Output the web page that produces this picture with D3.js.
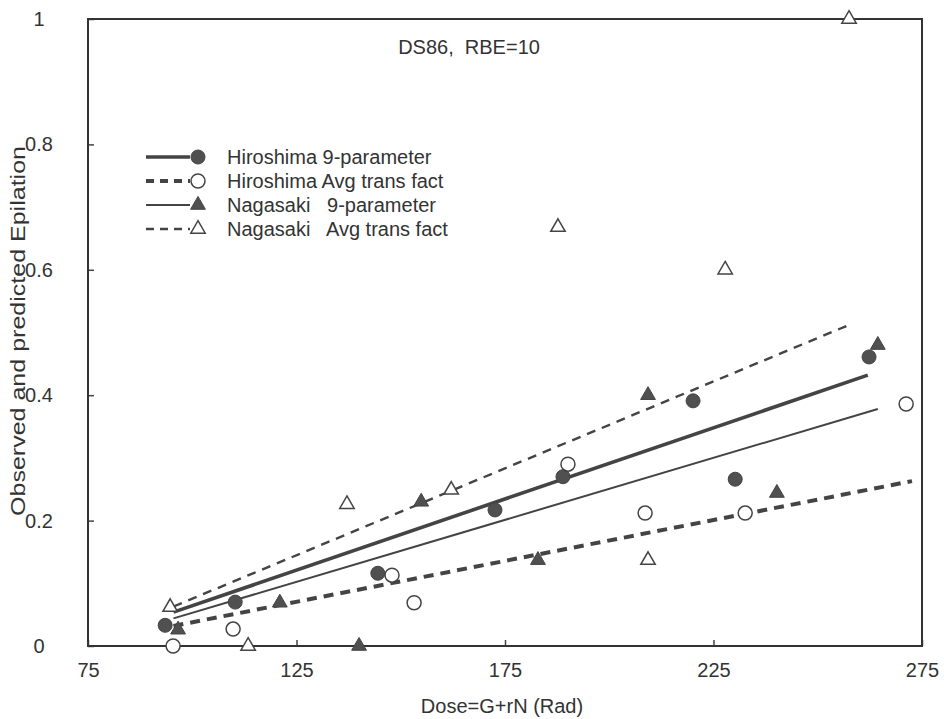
<!DOCTYPE html>
<html>
<head>
<meta charset="utf-8">
<script src="https://cdn.jsdelivr.net/npm/d3@7"></script>
<style>
  body { margin: 0; background: #fff; }
  text { font-family: "Liberation Sans", Arial, sans-serif; fill: #333; }
</style>
</head>
<body>
<svg id="chart" width="944" height="719"></svg>
<script>
// Observed points
var hiro9X = [93.5, 110.3, 144.5, 172.6, 188.9, 220.1, 230.2, 262.3];
var hiro9Y = [0.033, 0.070, 0.116, 0.217, 0.270, 0.391, 0.266, 0.461];
var hiroAvgX = [95.4, 109.8, 147.9, 153.2, 190.1, 208.6, 232.6, 271.2];
var hiroAvgY = [0.000, 0.027, 0.113, 0.069, 0.290, 0.212, 0.212, 0.386];
var naga9X = [96.6, 121.0, 140.0, 154.9, 182.9, 209.3, 240.2, 264.4];
var naga9Y = [0.026, 0.069, 0.000, 0.230, 0.137, 0.400, 0.244, 0.480];
var nagaAvgX = [94.7, 113.4, 137.1, 162.1, 187.7, 209.3, 227.8, 257.5];
var nagaAvgY = [0.062, 0.000, 0.226, 0.249, 0.668, 0.137, 0.600, 1.000];

// Fitted lines (start / end)
var hiro9FitX = [95.5, 262.0];
var hiro9FitY = [0.054, 0.432];
var hiroAvgFitX = [95.5, 272.6];
var hiroAvgFitY = [0.032, 0.263];
var naga9FitX = [95.5, 264.4];
var naga9FitY = [0.044, 0.378];
var nagaAvgFitX = [95.5, 258.2];
var nagaAvgFitY = [0.063, 0.514];

// Axis ticks
var xTicks = [75, 125, 175, 225, 275];
var yTicks = [0, 0.2, 0.4, 0.6, 0.8, 1];

var legendLabels = ["Hiroshima 9-parameter", "Hiroshima Avg trans fact",
                    "Nagasaki   9-parameter", "Nagasaki   Avg trans fact"];

var ink = "#444";

function getScaleX() {
    return d3.scaleLinear().domain([75, 275]).range([88, 922]);
}

function getScaleY() {
    return d3.scaleLinear().domain([0, 1]).range([646, 19]);
}

function zip(xs, ys) {
    return xs.map((x, i) => ({x: x, y: ys[i]}));
}

// series styles: line look + marker look
var series = [
    {pts: zip(hiro9X, hiro9Y), fit: zip(hiro9FitX, hiro9FitY), width: 3.6, dash: null, shape: "circle", filled: true},
    {pts: zip(hiroAvgX, hiroAvgY), fit: zip(hiroAvgFitX, hiroAvgFitY), width: 4, dash: "10,7", shape: "circle", filled: false},
    {pts: zip(naga9X, naga9Y), fit: zip(naga9FitX, naga9FitY), width: 2, dash: null, shape: "triangle", filled: true},
    {pts: zip(nagaAvgX, nagaAvgY), fit: zip(nagaAvgFitX, nagaAvgFitY), width: 2.4, dash: "9,7", shape: "triangle", filled: false}
];

function drawMarker(g, s, cx, cy) {
    var m;
    if (s.shape === "circle") {
        m = g.append("circle").attr("cx", cx).attr("cy", cy).attr("r", 7);
    } else {
        m = g.append("path")
            .attr("d", d3.symbol().type(d3.symbolTriangle).size(s.filled ? 95 : 90)())
            .attr("transform", "translate(" + cx + "," + cy + ")");
    }
    m.attr("fill", s.filled ? "#505050" : "#fff")
        .attr("stroke", ink)
        .attr("stroke-width", s.filled ? 1 : 1.5);
}

function axes(svg) {
    var scaleX = getScaleX();
    var scaleY = getScaleY();

    svg.append("g")
        .attr("transform", "translate(0,646)")
        .call(d3.axisBottom(scaleX).tickValues(xTicks).tickSizeInner(-6).tickSizeOuter(0))
        .call(g => g.select(".domain").remove())
        .call(g => g.selectAll("line").attr("stroke", ink).attr("stroke-width", 1.5))
        .call(g => g.selectAll("text").attr("y", 17).attr("font-size", "20px").attr("dy", "0.71em"));

    svg.append("g")
        .attr("transform", "translate(88,0)")
        .call(d3.axisLeft(scaleY).tickValues(yTicks).tickSizeInner(-6).tickSizeOuter(0).tickFormat(d3.format("~g")))
        .call(g => g.select(".domain").remove())
        .call(g => g.selectAll("line").attr("stroke", ink).attr("stroke-width", 1.5))
        .call(g => g.selectAll("text").attr("x", -49).attr("text-anchor", "middle").attr("font-size", "20px"));

    // frame
    svg.append("rect")
        .attr("x", 88).attr("y", 19).attr("width", 834).attr("height", 627)
        .attr("fill", "none").attr("stroke", "#333").attr("stroke-width", 2);

    svg.append("text")
        .attr("x", 502).attr("y", 713)
        .attr("text-anchor", "middle")
        .attr("font-size", "20px")
        .text("Dose=G+rN (Rad)");

    svg.append("text")
        .attr("transform", "translate(25,331) rotate(-90)")
        .attr("text-anchor", "middle")
        .attr("font-size", "21px")
        .attr("textLength", 370)
        .attr("lengthAdjust", "spacingAndGlyphs")
        .text("Observed and predicted Epilation");

    svg.append("text")
        .attr("x", 469).attr("y", 54)
        .attr("text-anchor", "middle")
        .attr("font-size", "20px")
        .style("white-space", "pre")
        .text("DS86,  RBE=10");
}

function plot(svg) {
    var scaleX = getScaleX();
    var scaleY = getScaleY();
    var line = d3.line().x(d => scaleX(d.x)).y(d => scaleY(d.y));

    series.forEach(function(s) {
        svg.append("path")
            .datum(s.fit)
            .attr("fill", "none")
            .attr("stroke", ink)
            .attr("stroke-width", s.width)
            .attr("stroke-dasharray", s.dash)
            .attr("d", line);
    });

    series.forEach(function(s) {
        var g = svg.append("g");
        s.pts.forEach(p => drawMarker(g, s, scaleX(p.x), scaleY(p.y)));
    });
}

function legend(svg) {
    var rowY = [157, 181, 205, 229];
    series.forEach(function(s, i) {
        var g = svg.append("g");
        g.append("line")
            .attr("x1", 146).attr("x2", 190)
            .attr("y1", rowY[i]).attr("y2", rowY[i])
            .attr("stroke", ink)
            .attr("stroke-width", s.width)
            .attr("stroke-dasharray", s.dash ? "8,6" : null);
        drawMarker(g, s, 198, rowY[i]);
        g.append("text")
            .attr("x", 227).attr("y", rowY[i] + 7)
            .attr("font-size", "20px")
            .style("white-space", "pre")
            .text(legendLabels[i]);
    });
}

function main() {
    var svg = d3.select("#chart");
    axes(svg);
    plot(svg);
    legend(svg);
}

main();
</script>
</body>
</html>
